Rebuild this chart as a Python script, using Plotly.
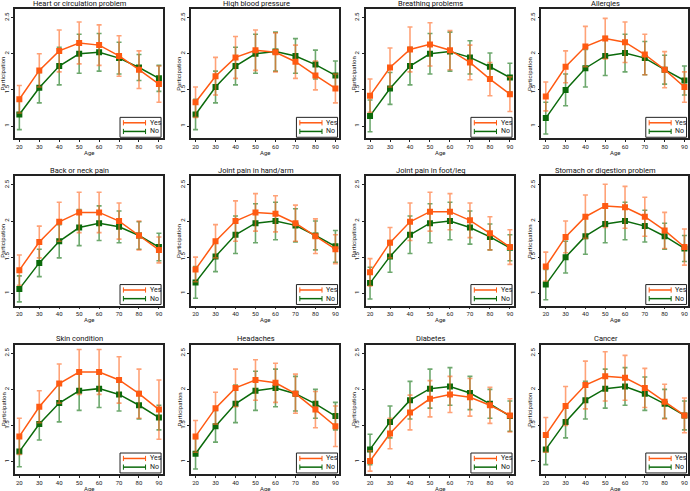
import plotly.graph_objects as go

ages = [20, 30, 40, 50, 60, 70, 80, 90]
titles = [
    "Heart or circulation problem", "High blood pressure", "Breathing problems", "Allergies",
    "Back or neck pain", "Joint pain in hand/arm", "Joint pain in foot/leg", "Stomach or digestion problem",
    "Skin condition", "Headaches", "Diabetes", "Cancer",
]
yes_mean = [
    [1.37, 1.77, 2.04, 2.15, 2.12, 1.97, 1.78, 1.58],
    [1.33, 1.69, 1.95, 2.05, 2.02, 1.89, 1.70, 1.52],
    [1.42, 1.81, 2.06, 2.13, 2.05, 1.88, 1.65, 1.44],
    [1.41, 1.82, 2.10, 2.21, 2.16, 1.99, 1.78, 1.54],
    [1.32, 1.71, 1.99, 2.12, 2.12, 2.00, 1.80, 1.60],
    [1.33, 1.72, 2.00, 2.12, 2.10, 1.97, 1.79, 1.61],
    [1.29, 1.70, 1.99, 2.13, 2.13, 2.01, 1.83, 1.64],
    [1.37, 1.78, 2.06, 2.21, 2.19, 2.06, 1.87, 1.64],
    [1.35, 1.76, 2.08, 2.24, 2.24, 2.13, 1.94, 1.72],
    [1.35, 1.74, 2.02, 2.13, 2.09, 1.94, 1.72, 1.49],
    [1.01, 1.39, 1.68, 1.87, 1.93, 1.89, 1.78, 1.64],
    [1.37, 1.77, 2.06, 2.18, 2.16, 2.02, 1.83, 1.64],
]
yes_err = [
    [0.19, 0.23, 0.29, 0.29, 0.28, 0.28, 0.26, 0.25],
    [0.21, 0.26, 0.29, 0.28, 0.27, 0.23, 0.20, 0.20],
    [0.23, 0.27, 0.31, 0.30, 0.27, 0.24, 0.23, 0.24],
    [0.20, 0.22, 0.28, 0.28, 0.28, 0.28, 0.25, 0.21],
    [0.21, 0.22, 0.27, 0.28, 0.28, 0.25, 0.20, 0.18],
    [0.17, 0.23, 0.28, 0.26, 0.25, 0.25, 0.24, 0.20],
    [0.19, 0.21, 0.26, 0.27, 0.25, 0.24, 0.23, 0.24],
    [0.20, 0.22, 0.30, 0.30, 0.29, 0.27, 0.25, 0.25],
    [0.25, 0.22, 0.27, 0.31, 0.31, 0.32, 0.34, 0.41],
    [0.22, 0.22, 0.26, 0.28, 0.27, 0.27, 0.25, 0.28],
    [0.14, 0.21, 0.24, 0.25, 0.25, 0.26, 0.25, 0.23],
    [0.24, 0.27, 0.33, 0.34, 0.31, 0.27, 0.24, 0.24],
]
no_mean = [
    [1.16, 1.53, 1.83, 2.00, 2.02, 1.94, 1.81, 1.66],
    [1.16, 1.54, 1.83, 2.00, 2.03, 1.97, 1.85, 1.70],
    [1.14, 1.52, 1.83, 2.00, 2.03, 1.95, 1.82, 1.67],
    [1.11, 1.50, 1.80, 1.97, 2.01, 1.94, 1.78, 1.63],
    [1.06, 1.42, 1.72, 1.91, 1.97, 1.92, 1.80, 1.64],
    [1.15, 1.51, 1.81, 1.97, 2.00, 1.94, 1.80, 1.65],
    [1.14, 1.51, 1.81, 1.97, 2.00, 1.91, 1.78, 1.63],
    [1.12, 1.50, 1.79, 1.96, 2.00, 1.93, 1.79, 1.62],
    [1.14, 1.52, 1.81, 1.98, 2.01, 1.93, 1.78, 1.61],
    [1.11, 1.49, 1.80, 1.98, 2.02, 1.94, 1.80, 1.63],
    [1.17, 1.55, 1.85, 2.01, 2.04, 1.95, 1.80, 1.63],
    [1.17, 1.55, 1.85, 2.01, 2.04, 1.94, 1.80, 1.64],
]
no_err = [
    [0.21, 0.21, 0.26, 0.27, 0.26, 0.22, 0.18, 0.18],
    [0.21, 0.22, 0.26, 0.27, 0.27, 0.24, 0.20, 0.20],
    [0.22, 0.22, 0.26, 0.28, 0.27, 0.23, 0.19, 0.20],
    [0.22, 0.22, 0.26, 0.27, 0.26, 0.23, 0.20, 0.20],
    [0.18, 0.19, 0.23, 0.25, 0.24, 0.22, 0.19, 0.19],
    [0.22, 0.21, 0.26, 0.27, 0.26, 0.23, 0.20, 0.22],
    [0.22, 0.22, 0.26, 0.27, 0.26, 0.23, 0.18, 0.18],
    [0.21, 0.22, 0.25, 0.26, 0.26, 0.22, 0.18, 0.18],
    [0.21, 0.22, 0.26, 0.27, 0.26, 0.23, 0.19, 0.17],
    [0.21, 0.22, 0.26, 0.27, 0.26, 0.24, 0.20, 0.19],
    [0.21, 0.22, 0.26, 0.27, 0.26, 0.23, 0.20, 0.21],
    [0.21, 0.22, 0.26, 0.27, 0.26, 0.23, 0.20, 0.20],
]
y_tick_vals = [1, 1.5, 2, 2.5]
y_tick_text = ["1", "1.5", "2", "2.5"]
series_names = ["Yes", "No"]

W, H = 690, 491
COL_PX = [(15, 163), (191.7, 340), (366.7, 515), (543, 690)]
ROW_PX = [(9.0, 138.3), (176.3, 305.5), (344.5, 474)]
FONT = "Roboto"
ORANGE = "#FF5A12"
ORANGE_ERR = "rgba(255,105,35,0.62)"
GREEN = "#0B6A0B"
GREEN_ERR = "rgba(20,115,20,0.62)"
FRAME = "#222222"

fig = go.Figure()
layout = {}
shapes = []
annotations = []

for i in range(12):
    r, c = divmod(i, 4)
    n = "" if i == 0 else str(i + 1)
    xa, ya = "x" + n, "y" + n
    x0, x1 = COL_PX[c]
    yt, yb = ROW_PX[r]
    layout["xaxis" + n] = dict(
        domain=[x0 / W, min(x1 / W, 1.0)], anchor=ya, range=[17.8, 91.8],
        tickvals=ages, ticks="outside", ticklen=2, tickwidth=1, tickcolor=FRAME,
        showline=True, linecolor=FRAME, linewidth=1.5, mirror=True,
        showgrid=False, zeroline=False, tickfont=dict(size=6, family=FONT, color="#222"),
    )
    layout["yaxis" + n] = dict(
        domain=[1 - yb / H, 1 - yt / H], anchor=xa, range=[0.83, 2.62],
        tickvals=y_tick_vals, ticktext=y_tick_text, tickangle=-90,
        ticks="outside", ticklen=2, tickwidth=1, tickcolor=FRAME,
        showline=True, linecolor=FRAME, linewidth=1.5, mirror=True,
        showgrid=False, zeroline=False, tickfont=dict(size=6, family=FONT, color="#222"),
    )
    # No first, Yes on top
    fig.add_trace(go.Scatter(
        x=ages, y=no_mean[i], mode="lines+markers", xaxis=xa, yaxis=ya, showlegend=False,
        line=dict(color=GREEN, width=1.5), marker=dict(symbol="square", size=6, color=GREEN),
        error_y=dict(type="data", array=no_err[i], color=GREEN_ERR, thickness=1.6, width=2.5),
        name=series_names[1],
    ))
    fig.add_trace(go.Scatter(
        x=ages, y=yes_mean[i], mode="lines+markers", xaxis=xa, yaxis=ya, showlegend=False,
        line=dict(color=ORANGE, width=1.5), marker=dict(symbol="square", size=6, color=ORANGE),
        error_y=dict(type="data", array=yes_err[i], color=ORANGE_ERR, thickness=1.6, width=2.5),
        name=series_names[0],
    ))
    xd, yd = xa + " domain", ya + " domain"
    # title
    annotations.append(dict(text=titles[i], xref=xd, yref=yd, x=0.5, y=1, xshift=-9, yshift=0.3,
                            xanchor="center", yanchor="bottom", showarrow=False, borderpad=0,
                            font=dict(size=7.5, family=FONT, color="#111")))
    annotations.append(dict(text="Age", xref=xd, yref=yd, x=0.5, y=0, yshift=-14,
                            xanchor="center", yanchor="middle", showarrow=False,
                            font=dict(size=6, family=FONT, color="#222")))
    annotations.append(dict(text="Participation", xref=xd, yref=yd, x=0, y=0.5, xshift=-12,
                            textangle=-90, xanchor="center", yanchor="middle", showarrow=False,
                            font=dict(size=6, family=FONT, color="#222")))
    # custom legend box
    shapes.append(dict(type="rect", xref=xd, yref=yd, x0=0.712, x1=0.99, y0=0.008, y1=0.162,
                       line=dict(color=FRAME, width=1), fillcolor="white", layer="above"))
    for name, col, ecol, yy in [(series_names[0], ORANGE, ORANGE_ERR, 0.12),
                                (series_names[1], GREEN, GREEN_ERR, 0.053)]:
        shapes.append(dict(type="line", xref=xd, yref=yd, x0=0.735, x1=0.885, y0=yy, y1=yy,
                           line=dict(color=col, width=1.5), layer="above"))
        for xx in (0.735, 0.885):
            shapes.append(dict(type="line", xref=xd, yref=yd, x0=xx, x1=xx, y0=yy - 0.02, y1=yy + 0.02,
                               line=dict(color=col, width=1), layer="above"))
        annotations.append(dict(text=name, xref=xd, yref=yd, x=0.9, y=yy, xanchor="left",
                                yanchor="middle", showarrow=False,
                                font=dict(size=7, family=FONT, color="#222")))

fig.update_layout(
    width=W, height=H, margin=dict(l=0, r=0, t=0, b=0),
    paper_bgcolor="white", plot_bgcolor="white", showlegend=False,
    shapes=shapes, annotations=annotations, font=dict(family=FONT), **layout,
)
fig.write_html("out.html", config={"displayModeBar": False},
               post_script="document.body.style.margin='0';document.body.style.overflow='hidden';")
